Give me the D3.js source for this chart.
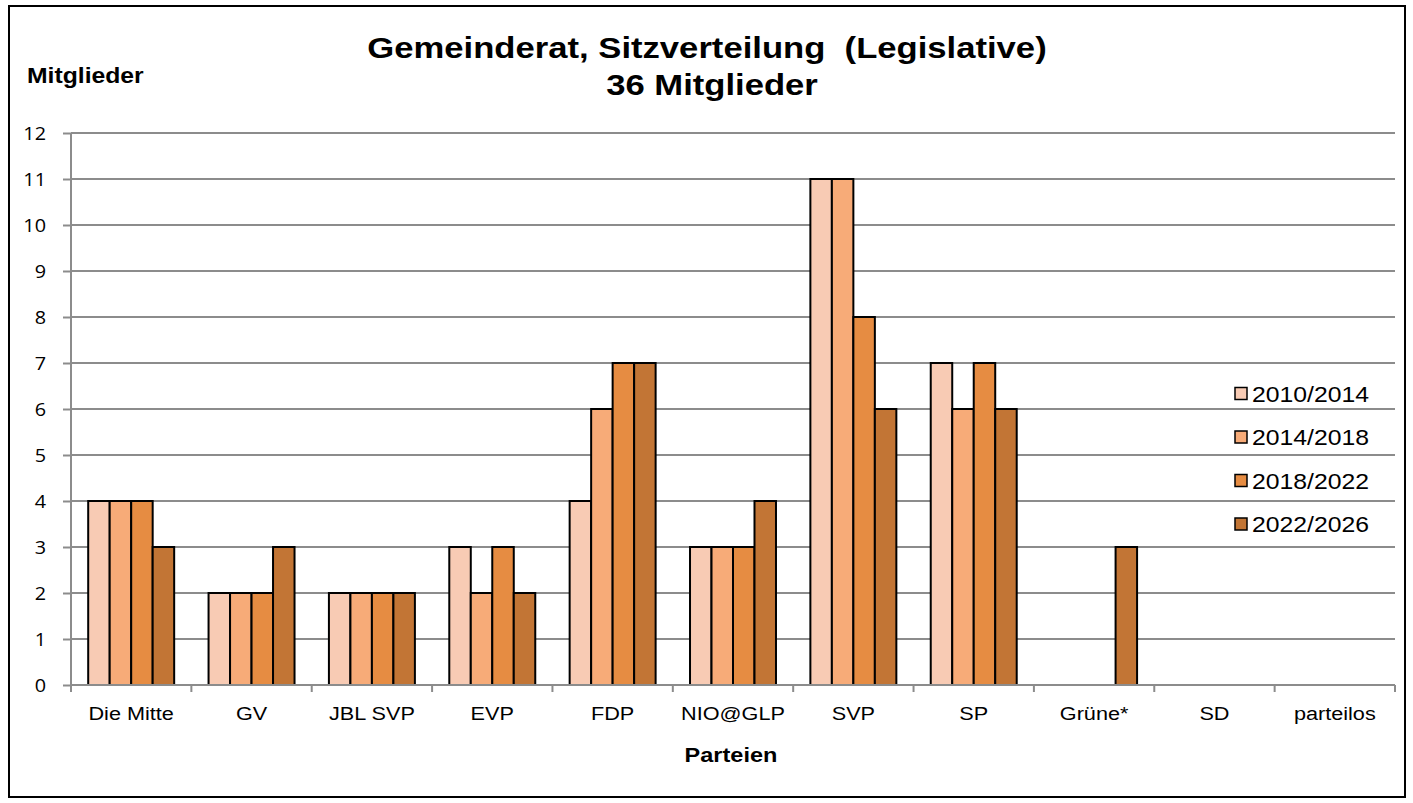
<!DOCTYPE html>
<html><head><meta charset="utf-8">
<script src="https://cdn.jsdelivr.net/npm/d3@7"></script>
<style>body{margin:0;background:#fff}svg{display:block}</style>
</head><body>
<script>
const categories = ["Die Mitte","GV","JBL SVP","EVP","FDP","NIO@GLP","SVP","SP","Grüne*","SD","parteilos"];
const seriesNames = ["2010/2014","2014/2018","2018/2022","2022/2026"];
const s2010 = [4,2,2,3,4,3,11,7,null,null,null];
const s2014 = [4,2,2,2,6,3,11,6,null,null,null];
const s2018 = [4,2,2,3,7,3,8,7,null,null,null];
const s2022 = [3,3,2,2,7,4,6,6,3,null,null];
const yTicks = [0,1,2,3,4,5,6,7,8,9,10,11,12];
const colors = ["#F8CBB4","#F7AB78","#E68C42","#C27535"];
const series = [s2010,s2014,s2018,s2022];

const W=1413,H=803;
const svg=d3.select("body").append("svg").attr("width",W).attr("height",H);
svg.append("rect").attr("x",9).attr("y",6).attr("width",1396).attr("height",791).attr("fill","#fff").attr("stroke","#000").attr("stroke-width",2);

const tf="Liberation Sans, Arial, sans-serif";
const nf="Open Sans, sans-serif";
function txt(g,x,y,s,opt){
  const t=g.append("text").attr("transform",`translate(${x},${y}) scale(${opt.sx||1.15},1)`)
   .attr("text-anchor",opt.anchor||"start").attr("font-family",opt.family||tf)
   .attr("font-size",opt.size).attr("fill","#000").attr("xml:space","preserve").text(s);
  if(opt.bold) t.attr("font-weight","bold");
  return t;
}

const L=71,R=1395,T=133,B=685;
const x=d3.scaleBand().domain(categories).range([L,R]).paddingInner(1.6/5.6).paddingOuter(0.8/5.6);
const x0=d3.scaleBand().domain(categories).range([L,R]);
const xs=d3.scaleBand().domain(d3.range(4)).range([0,x.bandwidth()]);
const y=d3.scaleLinear().domain([0,12]).range([B,T]);

// gridlines
svg.append("g").selectAll("line").data(yTicks.filter(d=>d>0)).join("line")
 .attr("x1",L).attr("x2",R).attr("y1",d=>y(d)).attr("y2",d=>y(d)).attr("stroke","#8c8c8c").attr("stroke-width",2);

// y axis
const ya=svg.append("g").attr("transform",`translate(${L},0)`).call(d3.axisLeft(y).tickValues(yTicks).tickSize(8).tickFormat(""));
ya.select(".domain").attr("stroke","#8c8c8c").attr("stroke-width",2).attr("d",`M0,${B}V${T}`);
ya.selectAll(".tick line").attr("stroke","#8c8c8c").attr("stroke-width",2);
const yl=svg.append("g");
yTicks.forEach(v=>txt(yl,46,y(v)+6.5,d3.format("d")(v),{size:18,family:nf,anchor:"end",sx:1.1}));

// bars
seriesNames.forEach((n,i)=>{
  svg.append("g").selectAll("rect").data(categories.map((c,j)=>({c,v:series[i][j]})).filter(d=>d.v!=null)).join("rect")
   .attr("x",d=>x(d.c)+xs(i)).attr("width",xs.bandwidth()).attr("y",d=>y(d.v)).attr("height",d=>y(0)-y(d.v))
   .attr("fill",colors[i]).attr("stroke","#000").attr("stroke-width",2);
});

// x axis
const xa=svg.append("g").attr("transform",`translate(0,${B})`);
xa.append("line").attr("x1",L).attr("x2",R).attr("stroke","#8c8c8c").attr("stroke-width",2);
const tickPos=categories.map(c=>x0(c)).concat([R]);
xa.selectAll(".tk").data(tickPos).join("line").attr("class","tk").attr("x1",d=>d).attr("x2",d=>d).attr("y1",0).attr("y2",7).attr("stroke","#8c8c8c").attr("stroke-width",2);
categories.forEach(c=>txt(xa,x0(c)+x0.bandwidth()/2,35,c,{size:19,anchor:"middle",sx:1.14}));

// titles
txt(svg,707,58,"Gemeinderat, Sitzverteilung  (Legislative)",{size:30,bold:true,anchor:"middle",sx:1.155});
txt(svg,712,95,"36 Mitglieder",{size:30,bold:true,anchor:"middle",sx:1.155});
txt(svg,27,83,"Mitglieder",{size:21.5,bold:true,sx:1.15});
txt(svg,731,762,"Parteien",{size:21,bold:true,anchor:"middle",sx:1.12});

// legend
const lg=svg.append("g");
seriesNames.forEach((n,i)=>{
  const cy=393.5+i*43.5;
  lg.append("rect").attr("x",1235).attr("y",cy-6).attr("width",12).attr("height",12).attr("fill",colors[i]).attr("stroke","#000").attr("stroke-width",1.5);
  txt(lg,1252,cy+8,n,{size:22.5,sx:1.1});
});
</script>
</body></html>
